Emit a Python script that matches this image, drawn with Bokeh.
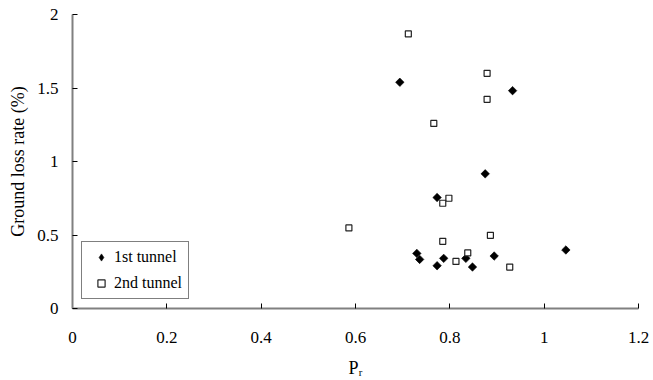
import numpy as np
from bokeh.plotting import figure
from bokeh.models import Range1d, FixedTicker, Legend, LegendItem
from bokeh.embed import file_html
from bokeh.resources import INLINE

# 1st tunnel (filled diamonds)
x1 = [0.694, 0.933, 0.875, 0.773, 0.730, 1.046, 0.894, 0.736, 0.787, 0.834, 0.773, 0.848]
y1 = [1.539, 1.482, 0.916, 0.755, 0.375, 0.398, 0.357, 0.334, 0.341, 0.341, 0.291, 0.282]
# 2nd tunnel (open squares)
x2 = [0.712, 0.879, 0.879, 0.766, 0.798, 0.785, 0.586, 0.886, 0.785, 0.838, 0.813, 0.927]
y2 = [1.868, 1.600, 1.423, 1.259, 0.750, 0.716, 0.548, 0.498, 0.457, 0.378, 0.320, 0.282]

x_ticks = [0, 0.2, 0.4, 0.6, 0.8, 1, 1.2]
x_tick_labels = ["0", "0.2", "0.4", "0.6", "0.8", "1", "1.2"]
y_ticks = [0, 0.5, 1, 1.5, 2]
y_tick_labels = ["0", "0.5", "1", "1.5", "2"]

FONT = "Liberation Serif"

p = figure(width=653, height=380, output_backend="svg", toolbar_location=None,
           x_range=Range1d(0, 1.2), y_range=Range1d(0, 2),
           min_border_left=72, min_border_right=15, min_border_top=14, min_border_bottom=72)
p.outline_line_color = None
p.xgrid.visible = False
p.ygrid.visible = False

for ax, ticks, labels in ((p.xaxis[0], x_ticks, x_tick_labels), (p.yaxis[0], y_ticks, y_tick_labels)):
    ax.ticker = FixedTicker(ticks=ticks)
    ax.major_label_overrides = dict(zip(ticks, labels))
    ax.minor_tick_line_color = None
    ax.major_tick_in = 5
    ax.major_tick_out = 0
    ax.major_tick_line_color = "black"
    ax.major_tick_line_width = 1
    ax.axis_line_color = "#808080"
    ax.axis_line_width = 2
    ax.major_label_text_font = FONT
    ax.major_label_text_font_size = "17px"
    ax.major_label_text_color = "black"
    ax.axis_label_text_font = FONT
    ax.axis_label_text_font_size = "18px"
    ax.axis_label_text_font_style = "normal"
    ax.axis_label_text_color = "black"

p.xaxis.major_label_standoff = 23
p.xaxis.axis_label = "P\u1d63"
p.xaxis.axis_label_text_font_size = "18px"
p.xaxis.axis_label_standoff = 12
p.yaxis.major_label_standoff = 14
p.yaxis.axis_label = "Ground loss rate (%)"
p.yaxis.axis_label_standoff = 6

r1 = p.scatter(x1, y1, marker="square", angle=np.pi / 4, size=6,
               fill_color="black", line_color="black", line_width=0.6)
r2 = p.scatter(x2, y2, marker="square", size=6,
               fill_color="white", line_color="#222222", line_width=1.2)
# legend swatch for the diamonds (legend glyphs are never rotated); size 0 on the plot
r1_key = p.scatter(x1, y1, marker="diamond", size=0, fill_color="black",
                   line_color="black", line_width=0.6)

legend = Legend(items=[LegendItem(label="1st tunnel", renderers=[r1_key]),
                       LegendItem(label="2nd tunnel", renderers=[r2])],
                location="bottom_left", margin=9, padding=6, spacing=8,
                glyph_width=26, glyph_height=18, label_standoff=0,
                label_text_font=FONT, label_text_font_size="16px",
                label_text_color="black", label_height=18,
                border_line_color="black", border_line_width=1,
                background_fill_color="white", background_fill_alpha=1)
p.add_layout(legend)

open("out.html", "w").write(file_html(p, INLINE))
